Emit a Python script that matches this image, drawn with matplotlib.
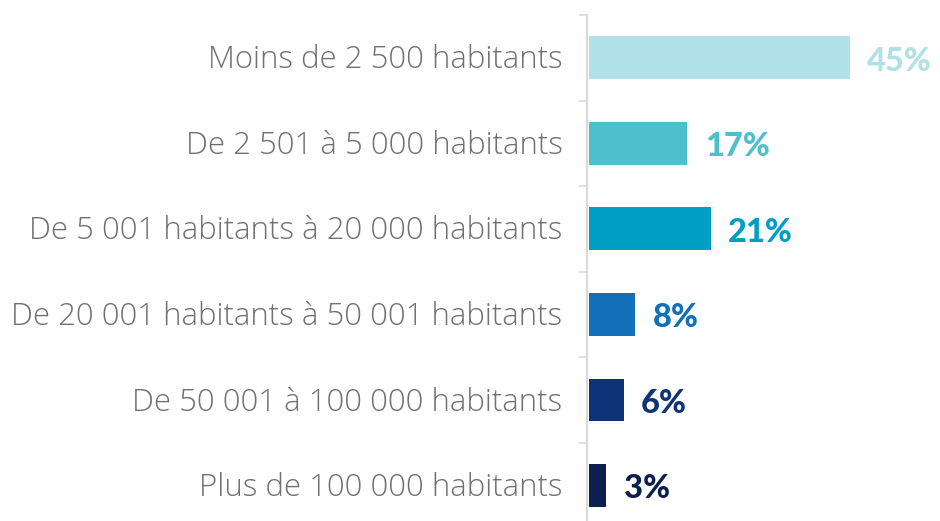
import matplotlib
matplotlib.use("Agg")
import matplotlib.pyplot as plt
import numpy as np

categories = [
    "Moins de 2 500 habitants",
    "De 2 501 à 5 000 habitants",
    "De 5 001 habitants à 20 000 habitants",
    "De 20 001 habitants à 50 001 habitants",
    "De 50 001 à 100 000 habitants",
    "Plus de 100 000 habitants",
]
values = [45, 17, 21, 8, 6, 3]
colors = ["#b0e1e8", "#4ebfcc", "#009ec4", "#1170b8", "#0e3378", "#0d1f4f"]

fig = plt.figure(figsize=(9.4, 5.21), dpi=100)
# axes spans from the axis line (x=587px) to the right edge
ax = fig.add_axes([587 / 940, 0.0, 1 - 587 / 940, 1 - 15 / 521])

y = np.arange(len(categories))
ax.barh(y, values, height=0.5, color=colors, left=0.3)

ax.set_ylim(5.415, -0.5)
ax.set_xlim(0, 60.8)

for yi, v, c in zip(y, values, colors):
    ax.text(0.3 + v + 3.0, yi + 0.04, f"{v}%", color=c, fontsize=23.5, fontweight=900,
            family="Lato", va="center", ha="left")
    ax.text(-4.2, yi + 0.03, categories[yi], color="#707070", fontsize=22.4,
            family="Open Sans", fontweight="light", va="center", ha="right")

for s in ["top", "right", "bottom"]:
    ax.spines[s].set_visible(False)
ax.spines["left"].set_color("#d9d9d9")
ax.spines["left"].set_linewidth(1.5)
ax.set_xticks([])
ax.set_yticks(np.arange(len(categories)) - 0.5)
ax.set_yticklabels([])
ax.tick_params(axis="y", length=6, width=1.2, color="#d9d9d9", direction="out")

fig.savefig("out.png", dpi=100)
